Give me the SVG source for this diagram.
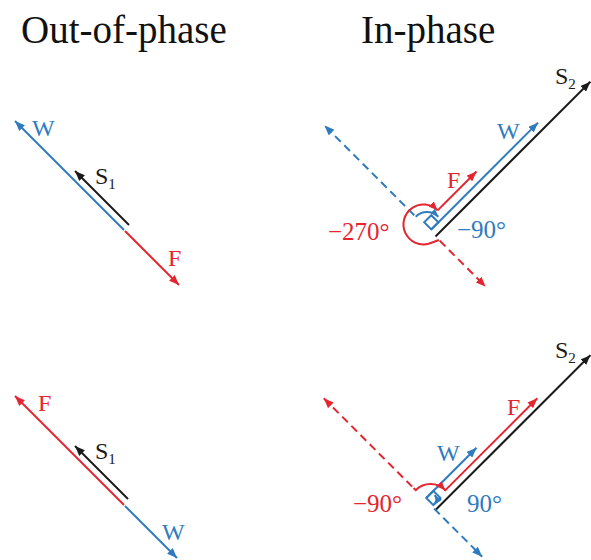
<svg xmlns="http://www.w3.org/2000/svg" width="591" height="560" viewBox="0 0 591 560">
<style>
.ln{fill:none;stroke-width:2;stroke-linecap:butt}
.b{stroke:#2f7bbf}
.r{stroke:#e3262f}
.k{stroke:#1a1a1a}
.d{stroke-dasharray:8 5}
text{font-family:"Liberation Serif","Times New Roman",serif}
.t{font-size:39px;fill:#111}
.lb{font-size:24px}
.an{font-size:25px}
.sub{font-size:15px}
.cb{fill:#2f7bbf}
.cr{fill:#e3262f}
.ck{fill:#1a1a1a}
</style>
<defs>
<marker id="hB" viewBox="0 0 10 8" refX="10" refY="4" markerWidth="10" markerHeight="8" markerUnits="userSpaceOnUse" orient="auto-start-reverse"><path d="M0,0 L10,4 L0,8 z" fill="#2f7bbf"/></marker>
<marker id="hR" viewBox="0 0 10 8" refX="10" refY="4" markerWidth="10" markerHeight="8" markerUnits="userSpaceOnUse" orient="auto-start-reverse"><path d="M0,0 L10,4 L0,8 z" fill="#e3262f"/></marker>
<marker id="hK" viewBox="0 0 10 8" refX="10" refY="4" markerWidth="10" markerHeight="8" markerUnits="userSpaceOnUse" orient="auto-start-reverse"><path d="M0,0 L10,4 L0,8 z" fill="#1a1a1a"/></marker>
<marker id="sB" viewBox="0 0 10 8" refX="10" refY="4" markerWidth="8" markerHeight="7" markerUnits="userSpaceOnUse" orient="auto"><path d="M0,0 L10,4 L0,8 z" fill="#2f7bbf"/></marker>
<marker id="sR" viewBox="0 0 10 8" refX="10" refY="4" markerWidth="9" markerHeight="8" markerUnits="userSpaceOnUse" orient="auto"><path d="M0,0 L10,4 L0,8 z" fill="#e3262f"/></marker>
</defs>

<g id="titles">
<text class="t" x="21" y="43">Out-of-phase</text>
<text class="t" x="361" y="43">In-phase</text>
</g>

<g id="connectors">
<!-- top-left: out-of-phase -->
<g id="tl">
<line class="ln b" x1="124" y1="230" x2="15" y2="121" marker-end="url(#hB)"/>
<line class="ln r" x1="125" y1="231" x2="179" y2="285" marker-end="url(#hR)"/>
<line class="ln k" x1="129" y1="225" x2="75" y2="171" marker-end="url(#hK)"/>
</g>
<!-- bottom-left -->
<g id="bl">
<line class="ln r" x1="124" y1="505" x2="15" y2="396" marker-end="url(#hR)"/>
<line class="ln b" x1="125" y1="506" x2="177" y2="558" marker-end="url(#hB)"/>
<line class="ln k" x1="128" y1="499" x2="75" y2="446" marker-end="url(#hK)"/>
</g>
<!-- top-right: in-phase -->
<g id="tr" transform="translate(435.5,236.5) rotate(-45)">
<line class="ln k" x1="0" y1="0" x2="219" y2="0" marker-end="url(#hK)"/>
<line class="ln b" x1="2" y1="-8" x2="153" y2="-8" marker-end="url(#hB)"/>
<rect class="ln b" x="2" y="-18" width="10" height="10"/>
<line class="ln r" x1="20" y1="-17" x2="75" y2="-17" marker-end="url(#hR)"/>
<line class="ln b d" x1="0" y1="-30" x2="0" y2="-157" marker-end="url(#hB)"/>
<line class="ln r d" x1="0" y1="6" x2="0" y2="71" marker-end="url(#hR)"/>
<path class="ln r" d="M0,5 L-10,0.3 A20 20 0 1 1 20,-17" marker-end="url(#sR)"/>
<path class="ln b" d="M0,-28 A16 16 0 0 1 16,-12" marker-end="url(#sB)"/>
</g>
<!-- bottom-right -->
<g id="br" transform="translate(435.5,510) rotate(-45)">
<line class="ln k" x1="0" y1="0" x2="219" y2="0" marker-end="url(#hK)"/>
<line class="ln r" x1="20" y1="-7" x2="151" y2="-7" marker-end="url(#hR)"/>
<line class="ln b" x1="2" y1="-15" x2="73" y2="-15" marker-end="url(#hB)"/>
<rect class="ln b" x="2" y="-15" width="10" height="10"/>
<path class="ln b" d="M3,-5 Q9,-5 10,-11" marker-end="url(#sB)"/>
<line class="ln b d" x1="0" y1="-2" x2="0" y2="66" marker-end="url(#hB)"/>
<line class="ln r d" x1="0" y1="-33" x2="0" y2="-158" marker-end="url(#hR)"/>
<path class="ln r" d="M0,-31 L0,-28 A21 21 0 0 1 21,-7" marker-end="url(#sR)"/>
</g>
</g>

<g id="labels">
<g id="tl-labels">
<text class="lb cb" x="32" y="136">W</text>
<text class="lb ck" x="95" y="184">S<tspan class="sub" dy="5">1</tspan></text>
<text class="lb cr" x="168" y="266">F</text>
</g>
<g id="bl-labels">
<text class="lb cr" x="38" y="411">F</text>
<text class="lb ck" x="95" y="459">S<tspan class="sub" dy="5">1</tspan></text>
<text class="lb cb" x="162" y="540">W</text>
</g>
<g id="tr-labels">
<text class="lb ck" x="555" y="84">S<tspan class="sub" dy="5">2</tspan></text>
<text class="lb cb" x="497" y="139">W</text>
<text class="lb cr" x="447" y="188">F</text>
<text class="an cr" x="328" y="240">−270°</text>
<text class="an cb" x="457" y="238">−90°</text>
</g>
<g id="br-labels">
<text class="lb ck" x="555" y="358">S<tspan class="sub" dy="5">2</tspan></text>
<text class="lb cr" x="507" y="415">F</text>
<text class="lb cb" x="437" y="461">W</text>
<text class="an cr" x="353" y="512">−90°</text>
<text class="an cb" x="467" y="512">90°</text>
</g>
</g>
</svg>
